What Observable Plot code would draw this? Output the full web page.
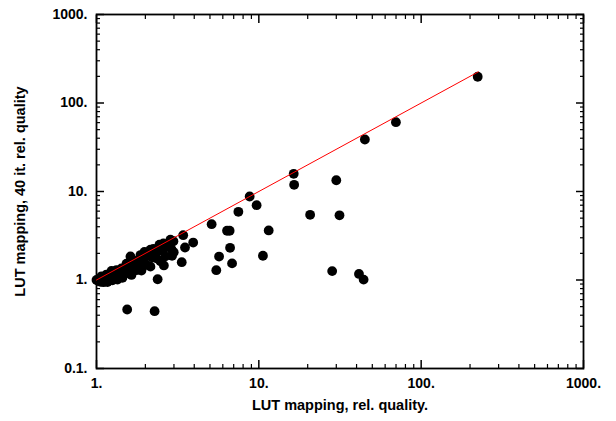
<!DOCTYPE html>
<html><head><meta charset="utf-8">
<script src="https://cdn.jsdelivr.net/npm/d3@7"></script>
<script src="https://cdn.jsdelivr.net/npm/@observablehq/plot@0.6"></script>
<style>body{margin:0;background:#fff}</style>
</head><body><div id="chart"></div>
<script>
const xLabel = "LUT mapping, rel. quality.";
const yLabel = "LUT mapping, 40 it. rel. quality";
const xMajor = [1, 10, 100, 1000];
const yMajor = [0.1, 1, 10, 100, 1000];
const xMinor = [2,3,4,5,6,7,8,9,20,30,40,50,60,70,80,90,200,300,400,500,600,700,800,900];
const yMinor = [0.2,0.3,0.4,0.5,0.6,0.7,0.8,0.9,2,3,4,5,6,7,8,9,20,30,40,50,60,70,80,90,200,300,400,500,600,700,800,900];

// dense cluster near the diagonal
const clusterX = [1.000,1.029,1.058,1.073,1.104,1.120,1.152,1.169,1.202,1.237,1.254,1.290,1.328,1.347,1.385,1.425,1.445,1.487,1.530,1.551,1.596,1.619,1.642,1.689,1.738,1.763,1.813,1.866,1.892,1.946,1.974,2.031,2.089,2.149,2.149,2.211,2.243,2.340,2.373,2.442,2.476,2.548,2.584,2.659,2.735,2.854,2.894,2.978,2.60,2.92,2.99];
const clusterY = [1.000,0.977,0.953,1.101,0.944,1.063,1.152,0.949,1.083,1.269,0.992,1.133,1.295,1.012,1.184,1.352,1.058,1.239,1.530,1.196,1.438,1.844,1.141,1.371,1.649,1.290,1.592,1.915,1.281,1.580,2.079,1.487,1.882,2.205,1.416,1.795,2.243,1.757,2.138,2.506,1.632,2.122,2.584,1.848,2.401,2.854,2.231,2.741,1.46,1.88,2.06];

// scattered points
const outlierX = [16.4,16.5,30.0,8.78,9.69,7.48,20.7,31.4,5.12,6.37,6.61,11.5,3.42,3.94,3.51,6.65,5.69,10.6,3.35,6.84,5.47,28.3,41.4,44.2,223,69.9,45,2.38,1.545,2.28];
const outlierY = [15.85,11.9,13.4,8.78,7.0,5.9,5.45,5.38,4.27,3.6,3.6,3.63,3.21,2.65,2.33,2.31,1.84,1.88,1.59,1.54,1.29,1.26,1.17,1.01,198,60.7,38.7,1.02,0.464,0.444];

// y = x reference line
const lineX = [1, 225];
const lineY = [1, 225];

const pts = clusterX.map((x,i)=>({x, y: clusterY[i]}))
  .concat(outlierX.map((x,i)=>({x, y: outlierY[i]})));
const linePts = lineX.map((x,i)=>({x, y: lineY[i]}));

const fmt = d => d + ".";
const font = "'Liberation Sans', Arial, sans-serif";

const chart = Plot.plot({
  width: 616,
  height: 421,
  marginLeft: 96,
  marginRight: 33,
  marginTop: 14,
  marginBottom: 53,
  style: {fontFamily: font, fontSize: "14px", fontWeight: "bold", color: "black", background: "white"},
  x: {type: "log", domain: [1, 1000], label: null},
  y: {type: "log", domain: [0.1, 1000], label: null},
  marks: [
    Plot.axisX(xMajor, {anchor: "bottom", tickSize: 0, tickPadding: 10, tickFormat: fmt, label: null, fontSize: 14, fontWeight: "bold"}),
    Plot.axisY(yMajor, {anchor: "left", tickSize: 0, tickPadding: 9, tickFormat: fmt, label: null, fontSize: 14, fontWeight: "bold"}),
    Plot.axisX(xMajor, {anchor: "bottom", tickSize: -8, tickFormat: () => "", label: null, strokeWidth: 1.5}),
    Plot.axisX(xMajor, {anchor: "top", tickSize: -8, tickFormat: () => "", label: null, strokeWidth: 1.5}),
    Plot.axisY(yMajor, {anchor: "left", tickSize: -8, tickFormat: () => "", label: null, strokeWidth: 1.5}),
    Plot.axisY(yMajor, {anchor: "right", tickSize: -8, tickFormat: () => "", label: null, strokeWidth: 1.5}),
    Plot.axisX(xMinor, {anchor: "bottom", tickSize: -4, tickFormat: () => "", label: null, strokeWidth: 1.2}),
    Plot.axisX(xMinor, {anchor: "top", tickSize: -4, tickFormat: () => "", label: null, strokeWidth: 1.2}),
    Plot.axisY(yMinor, {anchor: "left", tickSize: -4, tickFormat: () => "", label: null, strokeWidth: 1.2}),
    Plot.axisY(yMinor, {anchor: "right", tickSize: -4, tickFormat: () => "", label: null, strokeWidth: 1.2}),
    Plot.frame({stroke: "black", strokeWidth: 1.8}),
    Plot.dot(pts, {x: "x", y: "y", r: 4.9, fill: "black", stroke: "none"}),
    Plot.line(linePts, {x: "x", y: "y", stroke: "#ff0000", strokeWidth: 1}),
    Plot.text([xLabel], {frameAnchor: "bottom", dy: 41, fontSize: 14.5, fontWeight: "bold", fill: "black"}),
    Plot.text([yLabel], {frameAnchor: "left", dx: -76, rotate: -90, textAnchor: "middle", fontSize: 14.5, fontWeight: "bold", fill: "black"})
  ]
});
document.getElementById("chart").appendChild(chart);
</script>
</body></html>
